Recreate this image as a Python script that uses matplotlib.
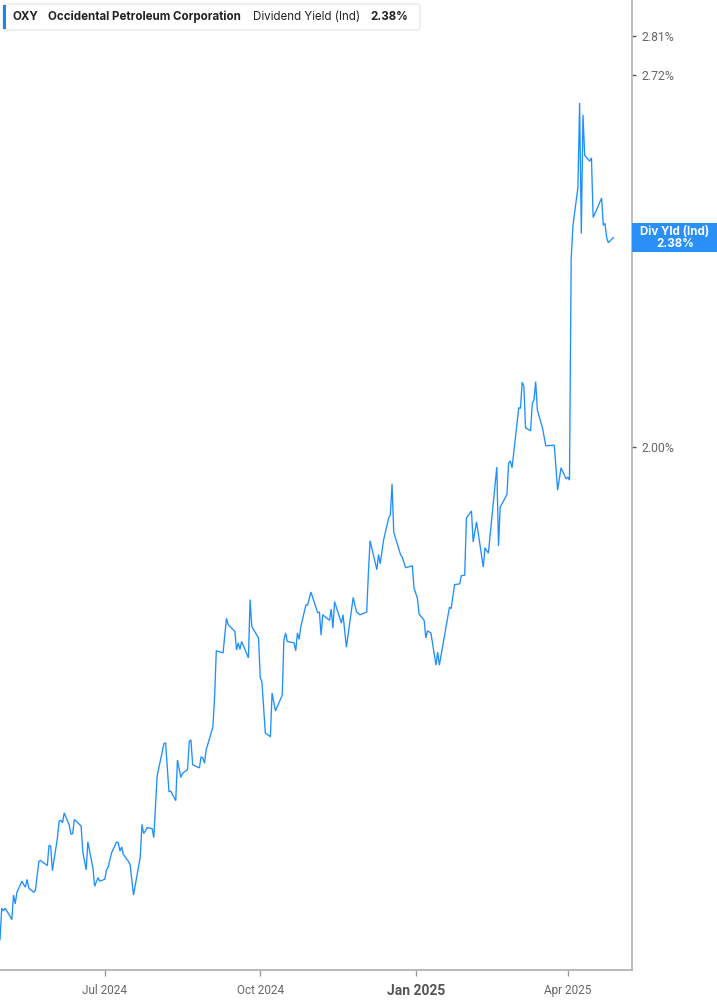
import matplotlib
matplotlib.use("Agg")
import matplotlib.pyplot as plt
from matplotlib.patches import FancyBboxPatch, Rectangle
from matplotlib.ticker import FixedLocator, FuncFormatter, NullLocator
import pandas as pd

# OXY dividend yield (Ind), %
dates = [
    "2024-04-30",
    "2024-05-01", "2024-05-02", "2024-05-03", "2024-05-06", "2024-05-07", "2024-05-08", "2024-05-09",
    "2024-05-10", "2024-05-13", "2024-05-14", "2024-05-15", "2024-05-16", "2024-05-17", "2024-05-20",
    "2024-05-21", "2024-05-23", "2024-05-24", "2024-05-28", "2024-05-29", "2024-05-30", "2024-05-31",
    "2024-06-03", "2024-06-04", "2024-06-05", "2024-06-06", "2024-06-07", "2024-06-10", "2024-06-11",
    "2024-06-12", "2024-06-13", "2024-06-14", "2024-06-17", "2024-06-18", "2024-06-20", "2024-06-21",
    "2024-06-24", "2024-06-25", "2024-06-26", "2024-06-27", "2024-06-28",
    "2024-07-01", "2024-07-02", "2024-07-03", "2024-07-05", "2024-07-08", "2024-07-09", "2024-07-10",
    "2024-07-11", "2024-07-12", "2024-07-15", "2024-07-16", "2024-07-18", "2024-07-22", "2024-07-23",
    "2024-07-24", "2024-07-25", "2024-07-26", "2024-07-29", "2024-07-30",
    "2024-08-01", "2024-08-05", "2024-08-06", "2024-08-08", "2024-08-09", "2024-08-12", "2024-08-13",
    "2024-08-15", "2024-08-16", "2024-08-19", "2024-08-20", "2024-08-21", "2024-08-22", "2024-08-26",
    "2024-08-27", "2024-08-28", "2024-08-29", "2024-08-30",
    "2024-09-03", "2024-09-04", "2024-09-05", "2024-09-09", "2024-09-11", "2024-09-12", "2024-09-16",
    "2024-09-17", "2024-09-18", "2024-09-19", "2024-09-20", "2024-09-24", "2024-09-25", "2024-09-26",
    "2024-09-30",
    "2024-10-01", "2024-10-02", "2024-10-04", "2024-10-07", "2024-10-08", "2024-10-10", "2024-10-14",
    "2024-10-15", "2024-10-16", "2024-10-17", "2024-10-21", "2024-10-22", "2024-10-23", "2024-10-24",
    "2024-10-25", "2024-10-28", "2024-10-29", "2024-10-31",
    "2024-11-04", "2024-11-05", "2024-11-06", "2024-11-07", "2024-11-11", "2024-11-12", "2024-11-13",
    "2024-11-14", "2024-11-18", "2024-11-19", "2024-11-21", "2024-11-25", "2024-11-27", "2024-11-29",
    "2024-12-02", "2024-12-03", "2024-12-04", "2024-12-05", "2024-12-09", "2024-12-10", "2024-12-11",
    "2024-12-13", "2024-12-16", "2024-12-17", "2024-12-18", "2024-12-19", "2024-12-23", "2024-12-24",
    "2024-12-26", "2024-12-30", "2024-12-31",
    "2025-01-02", "2025-01-03", "2025-01-06", "2025-01-07", "2025-01-08", "2025-01-10", "2025-01-13",
    "2025-01-14", "2025-01-15", "2025-01-21", "2025-01-22", "2025-01-24", "2025-01-27", "2025-01-28",
    "2025-01-30", "2025-01-31",
    "2025-02-03", "2025-02-04", "2025-02-06", "2025-02-10", "2025-02-11", "2025-02-13", "2025-02-18",
    "2025-02-19", "2025-02-20", "2025-02-24", "2025-02-25", "2025-02-26", "2025-02-27",
    "2025-03-03", "2025-03-04", "2025-03-05", "2025-03-06", "2025-03-07", "2025-03-10", "2025-03-11",
    "2025-03-12", "2025-03-13", "2025-03-14", "2025-03-17", "2025-03-19", "2025-03-24", "2025-03-26",
    "2025-03-28", "2025-03-31",
    "2025-04-01", "2025-04-02", "2025-04-03", "2025-04-04", "2025-04-07", "2025-04-08", "2025-04-09",
    "2025-04-10", "2025-04-11", "2025-04-14", "2025-04-15", "2025-04-16", "2025-04-17", "2025-04-21",
    "2025-04-22", "2025-04-23", "2025-04-24", "2025-04-25", "2025-04-28",
]
div_yield = [
    1.331,
    1.366, 1.363, 1.366, 1.357, 1.353, 1.381, 1.371,
    1.384, 1.397, 1.393, 1.390, 1.399, 1.389, 1.384,
    1.387, 1.420, 1.421, 1.415, 1.439, 1.438, 1.409,
    1.448, 1.468, 1.469, 1.466, 1.478, 1.463, 1.452,
    1.453, 1.470, 1.468, 1.462, 1.431, 1.410, 1.443,
    1.412, 1.391, 1.396, 1.401, 1.397,
    1.399, 1.410, 1.413, 1.430, 1.443, 1.442, 1.432,
    1.437, 1.428, 1.420, 1.416, 1.381, 1.425, 1.464,
    1.453, 1.456, 1.460, 1.459, 1.448,
    1.524, 1.565, 1.566, 1.504, 1.505, 1.493, 1.544,
    1.522, 1.527, 1.532, 1.568, 1.570, 1.538, 1.534,
    1.548, 1.547, 1.540, 1.557,
    1.587, 1.627, 1.690, 1.687, 1.736, 1.727, 1.717,
    1.691, 1.701, 1.692, 1.703, 1.680, 1.763, 1.724,
    1.708,
    1.653, 1.647, 1.579, 1.574, 1.632, 1.608, 1.629,
    1.705, 1.715, 1.703, 1.701, 1.690, 1.715, 1.706,
    1.724, 1.755, 1.755, 1.774,
    1.744, 1.745, 1.712, 1.741, 1.733, 1.749, 1.722,
    1.760, 1.729, 1.741, 1.695, 1.766, 1.745, 1.741,
    1.744, 1.745, 1.802, 1.851, 1.807, 1.830, 1.816,
    1.852, 1.886, 1.891, 1.940, 1.864, 1.830, 1.826,
    1.810, 1.813, 1.780,
    1.765, 1.742, 1.733, 1.708, 1.718, 1.715, 1.670,
    1.688, 1.670, 1.752, 1.750, 1.785, 1.786, 1.798,
    1.799, 1.886,
    1.897, 1.849, 1.880, 1.811, 1.840, 1.832, 1.967,
    1.843, 1.903, 1.923, 1.974, 1.977, 1.966,
    2.066, 2.065, 2.110, 2.103, 2.032, 2.027, 2.074,
    2.079, 2.111, 2.062, 2.032, 2.002, 2.003, 1.930,
    1.966, 1.948,
    1.951, 1.946, 2.335, 2.400, 2.479, 2.658, 2.386,
    2.632, 2.545, 2.533, 2.540, 2.418, 2.425, 2.457,
    2.402, 2.406, 2.378, 2.368, 2.378,
]

ticker = "OXY"
company = "Occidental Petroleum Corporation"
metric = "Dividend Yield (Ind)"
last_text = "2.38%"
badge_lines = ["Div Yld (Ind)", "2.38%"]

y_ticks = [2.00, 2.72, 2.81]
x_ticks = ["2024-07-01", "2024-10-01", "2025-01-01", "2025-04-01"]
x_labels = ["Jul 2024", "Oct 2024", "Jan 2025", "Apr 2025"]

blue = "#1f8fff"
W, H = 717, 1005

fig = plt.figure(figsize=(W / 100, H / 100), dpi=100)
ax = fig.add_axes([0, 1 - 970 / H, 632 / W, 970 / H])

x = pd.to_datetime(dates)
ax.plot(x, div_yield, color=blue, lw=0.95, solid_joinstyle="miter")

ax.set_yscale("log")
ax.set_ylim(1.298, 2.894)
ax.set_xlim(pd.Timestamp("2024-04-30"), pd.Timestamp("2025-05-09"))

# y axis on the right, log scale with a few fixed ticks
ax.yaxis.tick_right()
ax.yaxis.set_major_locator(FixedLocator(y_ticks))
ax.yaxis.set_minor_locator(NullLocator())
ax.yaxis.set_major_formatter(FuncFormatter(lambda v, p: f"{v:.2f}%"))
ax.tick_params(axis="y", length=3, width=1, color="#555555", labelcolor="#666666",
               labelsize=8.8, pad=4)

ax.set_xticks(pd.to_datetime(x_ticks))
ax.set_xticklabels(x_labels)
ax.tick_params(axis="x", length=4, width=1, color="#999999", labelcolor="#666666",
               labelsize=8.5, pad=6)
for lab in ax.get_xticklabels():
    lab.set_family("Roboto")
    if lab.get_text() == "Jan 2025":
        lab.set_fontweight("bold")
        lab.set_fontsize(10)
        lab.set_color("#555555")
for lab in ax.get_yticklabels():
    lab.set_family("Roboto")

for s in ["top", "left"]:
    ax.spines[s].set_visible(False)
ax.spines["bottom"].set_color("#b3b3b3")
ax.spines["bottom"].set_linewidth(1.3)
ax.spines["right"].set_color("#b3b3b3")
ax.spines["right"].set_linewidth(1.2)

# header box
hdr = FancyBboxPatch((3 / W, 1 - 30 / H), 417 / W, 26 / H,
                     boxstyle="round,pad=0,rounding_size=0.004",
                     transform=fig.transFigure, facecolor="white",
                     edgecolor="#e3e3e3", lw=0.8)
fig.add_artist(hdr)
fig.add_artist(Rectangle((3 / W, 1 - 29 / H), 3 / W, 24 / H, transform=fig.transFigure,
                         facecolor="#1a84f0", edgecolor="none"))
ty = 1 - 17 / H
hfs = 8.3
fig.text(13 / W, ty, ticker, fontsize=hfs, fontweight="bold", color="#222222",
         family="Inter", va="center")
fig.text(48 / W, ty, company, fontsize=hfs, fontweight="bold", color="#222222",
         family="Inter", va="center")
fig.text(253 / W, ty, metric, fontsize=hfs, color="#222222", family="Inter", va="center")
fig.text(370 / W, ty, last_text, fontsize=hfs, fontweight="bold", color="#222222",
         family="Inter", va="center")

# value badge at the last point
fig.canvas.draw()
yd = ax.transData.transform((x[-1].value, div_yield[-1]))[1]
yf = fig.transFigure.inverted().transform((0, yd))[1]
bh = 29 / H
fig.add_artist(Rectangle((632 / W, yf - bh / 2), 85 / W, bh, transform=fig.transFigure,
                         facecolor="#2a8ff7", edgecolor="none"))
fig.text(675 / W, yf + 6 / H, badge_lines[0], fontsize=8.3, fontweight="bold",
         color="white", ha="center", va="center", family="Inter")
fig.text(675 / W, yf - 6 / H, badge_lines[1], fontsize=8.3, fontweight="bold",
         color="white", ha="center", va="center", family="Inter")

fig.savefig("out.png", dpi=100)
